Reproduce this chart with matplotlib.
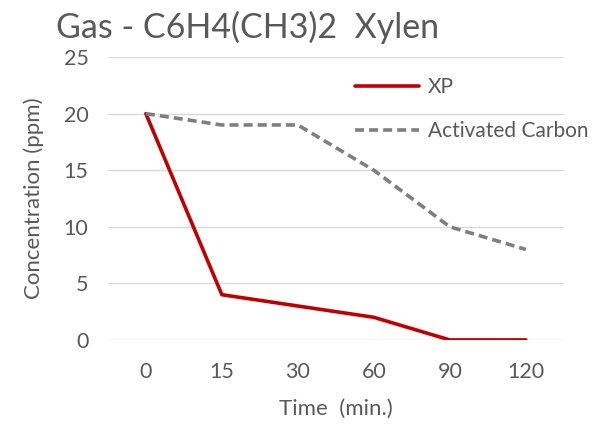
import numpy as np
import matplotlib
matplotlib.use("Agg")
import matplotlib.pyplot as plt

times = ["0", "15", "30", "60", "90", "120"]
xp = [20, 4, 3, 2, 0, 0]
carbon = [20, 19, 19, 15, 10, 8]
yticks = [0, 5, 10, 15, 20, 25]

TXT = "#595959"; RED = "#C00000"; GREY = "#7F7F7F"; GRID = "#D9D9D9"
plt.rcParams.update({"font.family": ["Lato", "DejaVu Sans"], "font.size": 15})

fig = plt.figure(figsize=(5.96, 4.26), dpi=100)
ax = fig.add_axes([0.181, 0.202, 0.765, 0.664])
x = np.arange(len(times))
ax.plot(x, xp, color=RED, lw=2.6, label="XP", solid_capstyle="round", zorder=3)
ax.plot(x, carbon, color=GREY, lw=2.6, ls=(0, (2.5, 1.4)), label="Activated Carbon", zorder=3)

ax.set_xlim(-0.5, len(times) - 0.5)
ax.set_ylim(0, 25)
ax.set_xticks(x, times)
ax.set_yticks(yticks)
ax.tick_params(length=0, colors=TXT, labelsize=15.5)
ax.tick_params(axis="x", pad=16)
ax.tick_params(axis="y", pad=14)
ax.grid(axis="y", color=GRID, lw=1)
ax.set_axisbelow(True)
for s in ax.spines.values():
    s.set_visible(False)
ax.set_xlabel("Time  (min.)", color=TXT, fontsize=16, labelpad=12)
ax.set_ylabel("Concentration (ppm)", color=TXT, fontsize=16, labelpad=14)
fig.text(0.094, 0.935, "Gas - C6H4(CH3)2  Xylen", color=TXT, fontsize=24.5, va="center", ha="left")
ax.legend(loc="upper left", bbox_to_anchor=(0.50, 0.995), frameon=False, fontsize=15,
          handlelength=3.1, labelspacing=1.15, handletextpad=0.4, labelcolor=TXT)
fig.savefig("out.png", dpi=100)
